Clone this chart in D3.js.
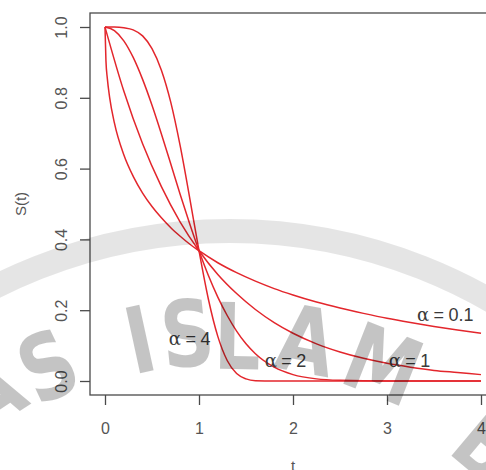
<!DOCTYPE html>
<html>
<head>
<meta charset="utf-8">
<script src="https://cdn.jsdelivr.net/npm/d3@7"></script>
<style>
  html, body { margin: 0; padding: 0; background: #ffffff; }
  svg { display: block; }
</style>
</head>
<body>
<div id="chart"></div>
<script>
// ---- data ----
const tA05 = [0, 0.01, 0.025, 0.05, 0.1, 0.2, 0.3, 0.4, 0.5, 0.6, 0.7, 0.8, 0.9, 1.0, 1.2, 1.4, 1.6, 1.8, 2.0, 2.25, 2.5, 2.75, 3.0, 3.25, 3.5, 3.75, 4.0];
const sA05 = [1, 0.905, 0.854, 0.80, 0.729, 0.639, 0.578, 0.531, 0.493, 0.461, 0.433, 0.409, 0.387, 0.368, 0.334, 0.306, 0.282, 0.261, 0.243, 0.223, 0.206, 0.191, 0.177, 0.165, 0.154, 0.144, 0.135];

const tA1 = [0, 0.2, 0.4, 0.6, 0.8, 1.0, 1.2, 1.4, 1.6, 1.8, 2.0, 2.25, 2.5, 2.75, 3.0, 3.25, 3.5, 3.75, 4.0];
const sA1 = [1, 0.819, 0.670, 0.549, 0.449, 0.368, 0.301, 0.247, 0.202, 0.165, 0.135, 0.105, 0.082, 0.064, 0.050, 0.039, 0.030, 0.024, 0.018];

const tA2 = [0, 0.1, 0.2, 0.3, 0.4, 0.5, 0.6, 0.7, 0.8, 0.9, 1.0, 1.1, 1.2, 1.3, 1.4, 1.5, 1.6, 1.8, 2.0, 2.25, 2.5, 3.0, 3.5, 4.0];
const sA2 = [1, 0.990, 0.961, 0.914, 0.852, 0.779, 0.698, 0.613, 0.527, 0.445, 0.368, 0.298, 0.237, 0.185, 0.141, 0.105, 0.077, 0.039, 0.018, 0.006, 0.002, 0, 0, 0];

const tA4 = [0, 0.1, 0.2, 0.3, 0.4, 0.5, 0.6, 0.7, 0.8, 0.9, 1.0, 1.1, 1.2, 1.3, 1.4, 1.5, 1.6, 1.8, 2.0, 3.0, 4.0];
const sA4 = [1, 1.0, 0.998, 0.992, 0.975, 0.939, 0.878, 0.787, 0.664, 0.519, 0.368, 0.231, 0.126, 0.058, 0.021, 0.006, 0.001, 0, 0, 0, 0];

const seriesNames = ["0.1", "1", "2", "4"];
const labelT = [3.62, 3.24, 1.92, 0.9];
const labelS = [0.186, 0.058, 0.058, 0.12];

const xTicks = [0, 1, 2, 3, 4];
const yTicks = [0, 0.2, 0.4, 0.6, 0.8, 1.0];
const xTitle = "t";
const yTitle = "S(t)";

// watermark (decoration): letters along an arc
const wmLetters = ["A", "S", "I", "S", "L", "A", "M", "B"];
const wmAngles  = [-33.6, -25.2, -12.3, -5.8, 1.0, 10.5, 21.5, 40];
const wmRadii   = [401, 395, 390, 389, 384, 387, 385, 370];

// ---- layout ----
const W = 486, H = 470;
const svg = d3.select("#chart").append("svg").attr("width", W).attr("height", H);

const x = d3.scaleLinear().domain([0, 4]).range([105, 481]);
const y = d3.scaleLinear().domain([0, 1]).range([381, 27]);
const box = { l: 90, t: 13, r: 496, b: 395 };

const red = "#e3262c";
const axisCol = "#4a4a4a";
const textCol = "#555";

// curves
const series = [
  { t: tA05, s: sA05 },
  { t: tA1, s: sA1 },
  { t: tA2, s: sA2 },
  { t: tA4, s: sA4 }
];
const line = d3.line().x(d => x(d[0])).y(d => y(d[1])).curve(d3.curveMonotoneX);
svg.append("g").selectAll("path").data(series).join("path")
  .attr("d", d => line(d.t.map((tv, i) => [tv, d.s[i]])))
  .attr("fill", "none").attr("stroke", red).attr("stroke-width", 1.5)
  .attr("stroke-linejoin", "round");

// box
svg.append("rect")
  .attr("x", box.l).attr("y", box.t)
  .attr("width", box.r - box.l).attr("height", box.b - box.t)
  .attr("fill", "none").attr("stroke", axisCol).attr("stroke-width", 1.3);

// x axis
const gx = svg.append("g").attr("transform", `translate(0,${box.b})`)
  .call(d3.axisBottom(x).tickValues(xTicks).tickFormat(d3.format("d")).tickSize(10).tickPadding(18));
gx.select(".domain").remove();
gx.selectAll(".tick line").attr("stroke", axisCol).attr("stroke-width", 1.3);
gx.selectAll(".tick text").attr("font-family", "Liberation Sans, Arial, sans-serif")
  .attr("font-size", 16).attr("fill", textCol);

// y axis
const gy = svg.append("g").attr("transform", `translate(${box.l},0)`)
  .call(d3.axisLeft(y).tickValues(yTicks).tickFormat(d3.format(".1f")).tickSize(10));
gy.select(".domain").remove();
gy.selectAll(".tick line").attr("stroke", axisCol).attr("stroke-width", 1.3);
gy.selectAll(".tick text")
  .attr("x", null).attr("dy", null)
  .attr("transform", "translate(-23,0) rotate(-90)")
  .attr("text-anchor", "middle")
  .attr("font-family", "Liberation Sans, Arial, sans-serif")
  .attr("font-size", 16).attr("fill", textCol);

// axis titles
svg.append("text").attr("x", (box.l + box.r) / 2).attr("y", 471)
  .attr("text-anchor", "middle").attr("font-family", "Liberation Sans, Arial, sans-serif")
  .attr("font-size", 15).attr("fill", textCol).text(xTitle);
svg.append("text").attr("transform", "translate(26,204) rotate(-90)")
  .attr("text-anchor", "middle").attr("font-family", "Liberation Sans, Arial, sans-serif")
  .attr("font-size", 15).attr("fill", textCol).text(yTitle);

// curve labels
const lab = svg.append("g").selectAll("text").data(seriesNames).join("text")
  .attr("x", (d, i) => x(labelT[i])).attr("y", (d, i) => y(labelS[i]))
  .attr("dy", "0.35em")
  .attr("text-anchor", "middle")
  .attr("font-family", "Liberation Sans, Arial, sans-serif")
  .attr("font-size", 18).attr("fill", "#3a3a3a");
lab.append("tspan").attr("font-family", "DejaVu Serif, serif").text("\u03b1");
lab.append("tspan").text(d => "\u2005=\u2005" + d);

// watermark
const wm = svg.append("g").attr("pointer-events", "none");
const cx = 230, cy = 753;
wm.append("circle").attr("cx", cx).attr("cy", cy).attr("r", 522)
  .attr("fill", "none").attr("stroke", "#000").attr("stroke-opacity", 0.1).attr("stroke-width", 24);
wm.selectAll("text").data(wmLetters).join("text")
  .attr("transform", (d, i) => `translate(${cx},${cy}) rotate(${wmAngles[i]}) translate(0,${-wmRadii[i]}) scale(0.8,1)`)
  .attr("text-anchor", "middle")
  .attr("font-family", "DejaVu Sans, sans-serif")
  .attr("font-weight", "bold")
  .attr("font-size", 92)
  .attr("fill", "#000").attr("fill-opacity", 0.23)
  .text(d => d);
</script>
</body>
</html>
